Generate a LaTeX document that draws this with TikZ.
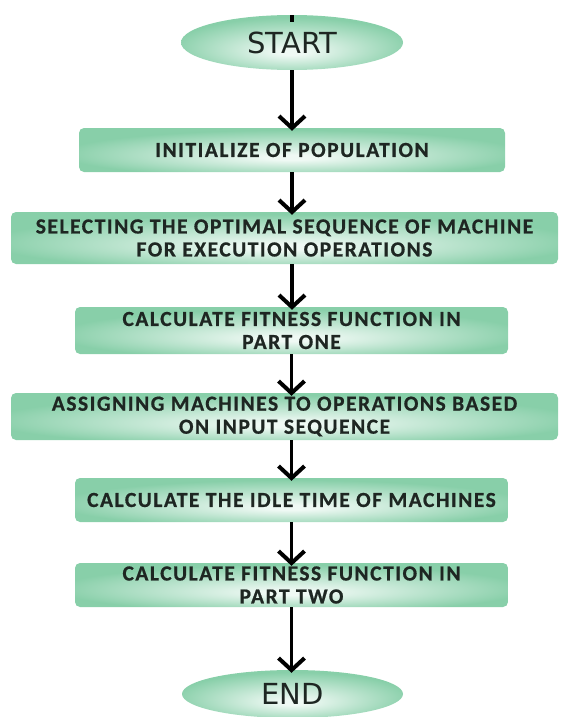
\documentclass[tikz,border=0pt]{standalone}
\usepackage{fontspec}
\setmainfont{Carlito}
\newfontfamily\boxfont[LetterSpace=7,FakeBold=0.7]{Carlito}
\newfontfamily\termfont{DejaVu Sans}
\usetikzlibrary{shapes.geometric,arrows.meta}
\definecolor{gd}{HTML}{88CFA9}
\definecolor{gl}{HTML}{EFF9F4}
\definecolor{txt}{HTML}{1E2622}
\pgfdeclareradialshading{glow}{\pgfpoint{0bp}{-9bp}}{color(0bp)=(gl); color(3bp)=(gl); color(27bp)=(gd); color(50bp)=(gd)}
\tikzset{
  procbox/.style={rectangle, rounded corners=5pt, shading=glow, inner sep=0pt,
    text=txt, align=center, font=\boxfont\bfseries\fontsize{21.5}{23}\selectfont},
  termnode/.style={ellipse, shading=glow, inner sep=0pt, text=txt,
    font=\termfont\fontsize{29}{30}\selectfont},
  arr/.style={line width=3.2pt, black, -{Straight Barb[length=12pt,width=26pt,line width=4pt]}},
  stub/.style={line width=3.2pt, black}
}
\begin{document}
\begin{tikzpicture}[x=1pt,y=-1pt]
\useasboundingbox (0,0) rectangle (561,717);
\node[termnode, minimum width=222pt, minimum height=55pt] (start) at (292,42.5) {START};
\node[procbox, minimum width=426pt, minimum height=44pt] (b1) at (292,150) {INITIALIZE OF POPULATION};
\node[procbox, minimum width=547pt, minimum height=52pt] (b2) at (284.5,238) {SELECTING THE OPTIMAL SEQUENCE OF MACHINE\\FOR EXECUTION OPERATIONS};
\node[procbox, minimum width=433pt, minimum height=47pt] (b3) at (291.5,330.5) {CALCULATE FITNESS FUNCTION IN\\PART ONE};
\node[procbox, minimum width=547pt, minimum height=47pt] (b4) at (284.5,416.5) {ASSIGNING MACHINES TO OPERATIONS BASED\\ON INPUT SEQUENCE};
\node[procbox, minimum width=433pt, minimum height=44pt] (b5) at (291.5,500) {CALCULATE THE IDLE TIME OF MACHINES};
\node[procbox, minimum width=433pt, minimum height=44pt] (b6) at (291.5,585) {CALCULATE FITNESS FUNCTION IN\\PART TWO};
\node[termnode, minimum width=221pt, minimum height=48pt] (end) at (292.5,694) {END};
\coordinate (top) at ([yshift=-7pt]start.north);
\draw[stub] (top) -- (start.north);
\draw[arr] (start.south) -- ([yshift=-3pt]start.south |- b1.north);
\draw[arr] (b1.south) -- ([yshift=-3pt]b1.south |- b2.north);
\draw[arr] (b1.south |- b2.south) -- ([yshift=-3pt]b1.south |- b3.north);
\draw[arr] (b3.south) -- ([yshift=-3pt]b3.south |- b4.north);
\draw[arr] (b3.south |- b4.south) -- ([yshift=-3pt]b3.south |- b5.north);
\draw[arr] (b5.south) -- ([yshift=-3pt]b5.south |- b6.north);
\draw[arr] (b6.south) -- ([yshift=-3pt]b6.south |- end.north);
\end{tikzpicture}
\end{document}
